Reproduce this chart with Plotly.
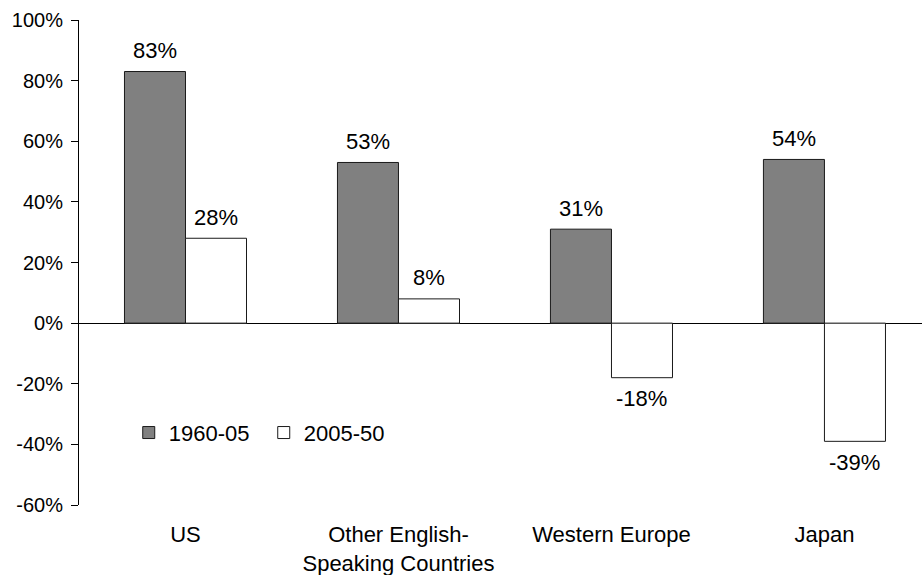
import plotly.graph_objects as go

# Population growth by region, two periods
regions = ["US", "Other English-<br>Speaking Countries", "Western Europe", "Japan"]
growth_1960_05 = [83, 53, 31, 54]
growth_2005_50 = [28, 8, -18, -39]
series_names = ["1960-05", "2005-50"]
y_ticks = [-60, -40, -20, 0, 20, 40, 60, 80, 100]

FONT = "Liberation Sans, Arial, sans-serif"
EDGE = "#1a1a1a"

fig = go.Figure()
fig.add_trace(go.Bar(
    x=regions, y=growth_1960_05, name=series_names[0],
    marker=dict(color="#808080", line=dict(color=EDGE, width=1)),
))
fig.add_trace(go.Bar(
    x=regions, y=growth_2005_50, name=series_names[1],
    marker=dict(color="#ffffff", line=dict(color=EDGE, width=1)),
))

# value labels placed just beyond the end of each bar
half_bar_px = 30.5
for vals, dx in ((growth_1960_05, -half_bar_px), (growth_2005_50, half_bar_px)):
    for cat, v in zip(regions, vals):
        fig.add_annotation(
            x=cat, y=v, xref="x", yref="y", text=f"{v}%", showarrow=False,
            xshift=dx, yshift=21 if v >= 0 else -21, yanchor="middle",
            font=dict(family=FONT, size=22, color="black"),
        )

fig.update_layout(
    width=922, height=575,
    margin=dict(l=79, r=0, t=20, b=70, autoexpand=False),
    paper_bgcolor="white", plot_bgcolor="white",
    font=dict(family=FONT, size=20, color="black"),
    barmode="group", bargap=0.427, bargroupgap=0,
    showlegend=True,
    legend=dict(
        orientation="h", x=0.059, y=0.149, xanchor="left", yanchor="middle",
        font=dict(family=FONT, size=22, color="black"),
        bgcolor="rgba(0,0,0,0)", itemwidth=30,
        entrywidth=90, entrywidthmode="pixels",
    ),
)
fig.update_xaxes(
    range=[-0.5, 3.458], showline=False, showgrid=False, zeroline=False,
    ticks="", tickfont=dict(family=FONT, size=22), ticklabelstandoff=14,
)
fig.update_yaxes(
    range=[-60, 100], tickmode="array", tickvals=y_ticks,
    ticktext=[f"{t}%" for t in y_ticks],
    showline=True, linecolor="black", linewidth=1,
    ticks="outside", ticklen=7, tickcolor="black", tickwidth=1,
    showgrid=False, zeroline=True, zerolinecolor="black", zerolinewidth=1,
    tickfont=dict(family=FONT, size=20), ticklabelstandoff=4,
    layer="above traces",
)

fig.write_html("out.html")
